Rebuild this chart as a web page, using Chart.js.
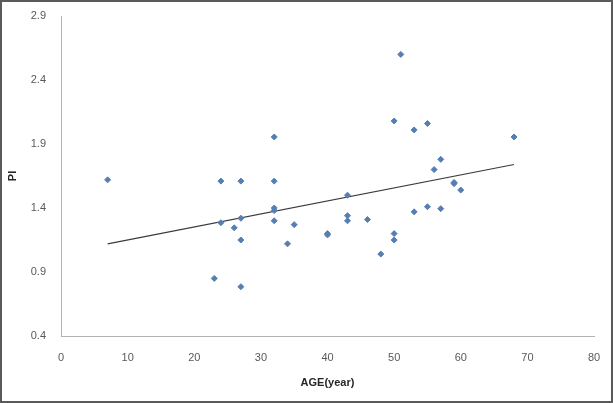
<!DOCTYPE html>
<html>
<head>
<meta charset="utf-8">
<script src="https://cdn.jsdelivr.net/npm/chart.js@4.4.1/dist/chart.umd.min.js"></script>
<style>
  html, body { margin: 0; padding: 0; background: #fff; }
  #wrap { width: 613px; height: 403px; position: relative; }
</style>
</head>
<body>
<div id="wrap"><canvas id="mainChart" width="613" height="403"></canvas></div>
<script>
// values
const ageValues = [7, 23, 24, 24, 26, 27, 27, 27, 27, 32, 32, 32, 32, 32, 34, 35, 40, 40, 43, 43, 43, 46, 48, 50, 50, 50, 51, 53, 53, 55, 55, 56, 57, 57, 59, 59, 60, 68];
const piValues  = [1.62, 0.85, 1.61, 1.285, 1.245, 1.61, 1.32, 1.15, 0.785, 1.955, 1.61, 1.40, 1.38, 1.30, 1.12, 1.27, 1.19, 1.20, 1.50, 1.34, 1.30, 1.31, 1.04, 2.08, 1.20, 1.15, 2.60, 2.01, 1.37, 2.06, 1.41, 1.70, 1.78, 1.395, 1.60, 1.59, 1.54, 1.955];
// linear trend line end points
const trendAge = [7, 68];
const trendPI  = [1.12, 1.74];
const xTicks = [0, 10, 20, 30, 40, 50, 60, 70, 80];
const yTicks = [0.4, 0.9, 1.4, 1.9, 2.4, 2.9];

const frameBorder = {
    id: 'frameBorder',
    afterDraw: (chart) => {
        const ctx = chart.ctx; ctx.save();
        ctx.strokeStyle = '#5a5a5a'; ctx.lineWidth = 2;
        ctx.strokeRect(1, 1, chart.width - 2, chart.height - 2);
        ctx.restore();
    }
};

const tickFont = { family: "'Liberation Sans', Arial, sans-serif", size: 11 };
const titleFont = { family: "'Liberation Sans', Arial, sans-serif", size: 11, weight: 'bold' };

new Chart(document.getElementById('mainChart'), {
    type: 'scatter',
    data: {
        datasets: [
            {
                label: 'PI',
                data: ageValues.map((a, i) => ({ x: a, y: piValues[i] })),
                pointStyle: 'rectRot',
                pointRadius: 3,
                backgroundColor: '#557fb2',
                borderColor: '#557fb2',
                borderWidth: 1
            },
            {
                label: 'Linear',
                type: 'line',
                data: trendAge.map((a, i) => ({ x: a, y: trendPI[i] })),
                borderColor: '#3a3a3a',
                borderWidth: 1.2,
                pointRadius: 0,
                fill: false
            }
        ]
    },
    options: {
        responsive: false,
        animation: false,
        layout: { padding: { top: 16, right: 19, left: 0, bottom: 0 } },
        scales: {
            x: {
                type: 'linear',
                min: xTicks[0], max: xTicks[xTicks.length - 1],
                afterBuildTicks: (s) => { s.ticks = xTicks.map(v => ({ value: v })); },
                afterFit: (s) => { s.height = 67; s.paddingLeft = 0; s.paddingRight = 0; },
                grid: { display: false, drawTicks: false },
                border: { display: true, color: '#b3b3b3', width: 1 },
                ticks: { color: '#595959', font: tickFont, padding: 15, maxRotation: 0 },
                title: { display: true, text: 'AGE(year)', color: '#262626', font: titleFont, padding: { top: 0, bottom: 13 } }
            },
            y: {
                type: 'linear',
                min: yTicks[0], max: yTicks[yTicks.length - 1],
                afterBuildTicks: (s) => { s.ticks = yTicks.map(v => ({ value: v })); },
                afterFit: (s) => { s.width = 61; s.paddingTop = 0; s.paddingBottom = 0; },
                grid: { display: false, drawTicks: false },
                border: { display: true, color: '#b3b3b3', width: 1 },
                ticks: { color: '#595959', font: tickFont, padding: 15, callback: (v) => Number(v).toFixed(1) },
                title: { display: true, text: 'PI', color: '#262626', font: titleFont, padding: { top: 6, bottom: 0 } }
            }
        },
        plugins: {
            legend: { display: false },
            tooltip: { enabled: false }
        }
    },
    plugins: [frameBorder]
});
</script>
</body>
</html>
